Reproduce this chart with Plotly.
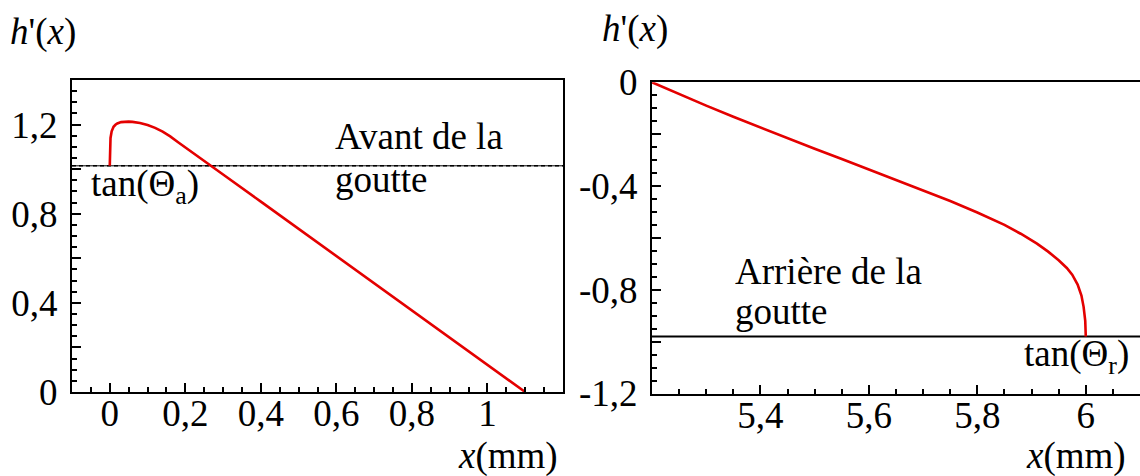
import plotly.graph_objects as go

# ---------------- data ----------------
# Left panel: front of the drop (Avant de la goutte)
front_x = [0.0, 0.001, 0.002, 0.005, 0.01, 0.015, 0.02, 0.03, 0.04, 0.05, 0.06, 0.08,
           0.10, 0.12, 0.14, 0.16, 0.18, 0.20, 0.25, 0.30, 0.40, 0.50, 0.60, 0.70,
           0.80, 0.90, 1.00, 1.10]
front_y = [1.015, 1.10, 1.14, 1.17, 1.19, 1.199, 1.205, 1.211, 1.213, 1.213, 1.212, 1.207,
           1.198, 1.185, 1.168, 1.147, 1.122, 1.098, 1.037, 0.976, 0.854, 0.732, 0.610, 0.488,
           0.366, 0.244, 0.122, 0.0]
tan_theta_a = 1.015

# Right panel: rear of the drop (Arrière de la goutte)
rear_x = [5.20, 5.25, 5.30, 5.35, 5.40, 5.45, 5.50, 5.55, 5.60, 5.65, 5.70, 5.75, 5.80,
          5.85, 5.88, 5.91, 5.93, 5.95, 5.965, 5.975, 5.985, 5.992, 5.996, 5.999, 6.0]
rear_y = [0.0, -0.046, -0.090, -0.133, -0.175, -0.216, -0.256, -0.296, -0.336, -0.376,
          -0.417, -0.458, -0.502, -0.550, -0.584, -0.622, -0.652, -0.686, -0.716, -0.742,
          -0.780, -0.822, -0.866, -0.920, -0.980]
tan_theta_r = -0.98

# ticks
left_x_ticks = [0, 0.2, 0.4, 0.6, 0.8, 1.0]
left_x_labels = ["0", "0,2", "0,4", "0,6", "0,8", "1"]
left_y_ticks = [0, 0.2, 0.4, 0.6, 0.8, 1.0, 1.2]
left_y_labels = ["0", "", "0,4", "", "0,8", "", "1,2"]
right_x_ticks = [5.2, 5.4, 5.6, 5.8, 6.0]
right_x_labels = ["", "5,4", "5,6", "5,8", "6"]
right_y_ticks = [0, -0.2, -0.4, -0.6, -0.8, -1.0, -1.2]
right_y_labels = ["0", "", "-0,4", "", "-0,8", "", "-1,2"]

left_x_range = [-0.1, 1.2]
left_y_range = [0, 1.4]
right_x_range = [5.2, 6.1]
right_y_range = [-1.2, 0]

# ---------------- figure ----------------
W, H = 1140, 476
RED = "rgb(228,0,0)"
FONT = "Liberation Serif"
FS = 37

fig = go.Figure()

# left: reference line (dashed over thin solid)
fig.add_trace(go.Scatter(x=left_x_range, y=[tan_theta_a, tan_theta_a], mode="lines",
                         line=dict(color="black", width=1), xaxis="x", yaxis="y",
                         hoverinfo="skip"))
fig.add_trace(go.Scatter(x=left_x_range, y=[tan_theta_a, tan_theta_a], mode="lines",
                         line=dict(color="black", width=1.6, dash="4px,3px"), xaxis="x", yaxis="y",
                         hoverinfo="skip"))
fig.add_trace(go.Scatter(x=front_x, y=front_y, mode="lines",
                         line=dict(color=RED, width=2.6), xaxis="x", yaxis="y"))

# right
fig.add_trace(go.Scatter(x=right_x_range, y=[tan_theta_r, tan_theta_r], mode="lines",
                         line=dict(color="black", width=2), xaxis="x2", yaxis="y2",
                         hoverinfo="skip"))
fig.add_trace(go.Scatter(x=rear_x, y=rear_y, mode="lines",
                         line=dict(color=RED, width=2.6), xaxis="x2", yaxis="y2"))

common_axis = dict(showgrid=False, zeroline=False, showline=True, linecolor="black",
                   linewidth=2, ticks="inside", tickcolor="black", tickwidth=1.5, ticklen=9,
                   tickmode="array", automargin=False,
                   tickfont=dict(family=FONT, size=FS, color="black"),
                   minor=dict(dtick=0.05, tick0=0, ticks="inside", ticklen=5,
                              tickcolor="black", tickwidth=1.5, showgrid=False))

lx0, lx1 = 72 / W, 563 / W
rx0, rx1 = 652 / W, 1.0
ly0, ly1 = 1 - 392 / H, 1 - 80 / H
ry0, ry1 = 1 - 393.5 / H, 1 - 82.3 / H

fig.update_layout(
    width=W, height=H, margin=dict(l=0, r=0, t=0, b=0, autoexpand=False),
    paper_bgcolor="white", plot_bgcolor="white", showlegend=False,
    font=dict(family=FONT, size=FS, color="black"),
    xaxis=dict(common_axis, domain=[lx0, lx1], range=left_x_range, anchor="y",
               tickvals=left_x_ticks, ticktext=left_x_labels, mirror=True,
               ticklabelstandoff=-12),
    yaxis=dict(common_axis, domain=[ly0, ly1], range=left_y_range, anchor="x",
               tickvals=left_y_ticks, ticktext=left_y_labels, mirror=True,
               ticklabelstandoff=5),
    xaxis2=dict(common_axis, domain=[rx0, rx1], range=right_x_range, anchor="y2",
                tickvals=right_x_ticks, ticktext=right_x_labels, mirror=True,
                ticklabelstandoff=-12),
    yaxis2=dict(common_axis, domain=[ry0, ry1], range=right_y_range, anchor="x2",
                tickvals=right_y_ticks, ticktext=right_y_labels, mirror=False,
                ticklabelstandoff=5),
)

def ann(text, x, y, xref, yref, xanchor="left", yanchor="middle"):
    fig.add_annotation(text=text, x=x, y=y, xref=xref, yref=yref, showarrow=False,
                       xanchor=xanchor, yanchor=yanchor,
                       font=dict(family=FONT, size=FS, color="black"))

# in-plot labels (data coordinates)
ann("Avant de la", 0.592, 1.148, "x", "y")
ann("goutte", 0.592, 0.955, "x", "y")
ann("tan(Θ<sub>a</sub>)", -0.056, 0.924, "x", "y")
ann("Arrière de la", 5.35, -0.730, "x2", "y2")
ann("goutte", 5.35, -0.884, "x2", "y2")
ann("tan(Θ<sub>r</sub>)", 5.882, -1.057, "x2", "y2")

# axis titles (paper coordinates)
ann("<i>h</i>'(<i>x</i>)", 8 / W, 1 - 32 / H, "paper", "paper")
ann("<i>h</i>'(<i>x</i>)", 600 / W, 1 - 29 / H, "paper", "paper")
ann("<i>x</i>(mm)", 560 / W, 1 - 456 / H, "paper", "paper", xanchor="right")
ann("<i>x</i>(mm)", 1128 / W, 1 - 456 / H, "paper", "paper", xanchor="right")

fig.write_html("out.html", config={"displayModeBar": False},
               post_script="document.body.style.margin='0';")
